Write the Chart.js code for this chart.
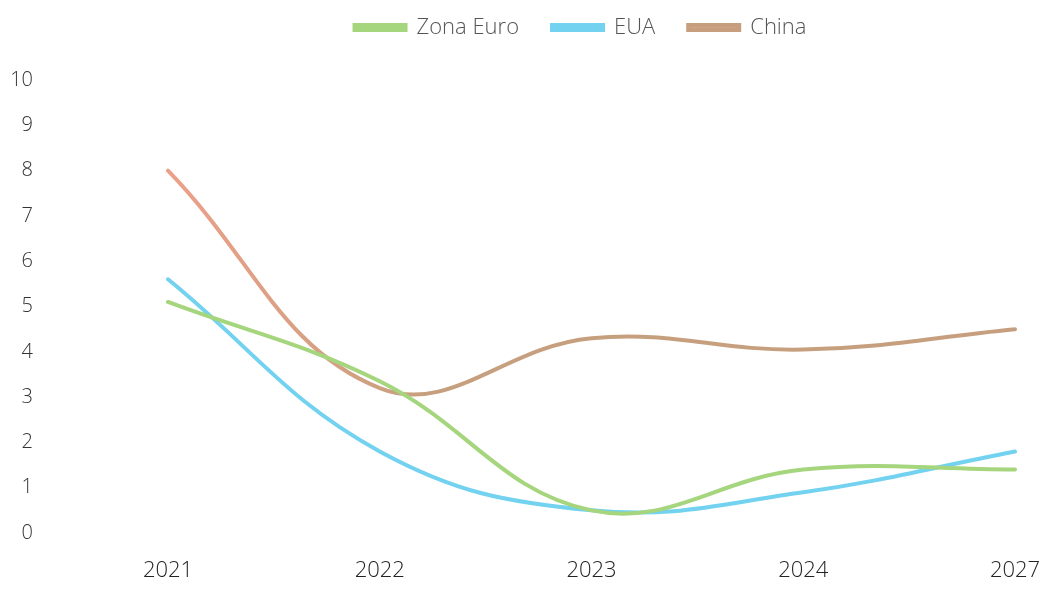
<!DOCTYPE html>
<html>
<head>
<meta charset="utf-8">
<script src="https://cdn.jsdelivr.net/npm/chart.js@4"></script>
<style>
  html, body { margin: 0; padding: 0; background: #fff; }
  #wrap { width: 1048px; height: 595px; }
</style>
</head>
<body>
<div id="wrap"><canvas id="growthChart" width="1048" height="595"></canvas></div>
<script>
const labels = ['2021', '2022', '2023', '2024', '2027'];

const zonaEuro = [5.1, 3.35, 0.5, 1.4, 1.4];
const eua = [5.6, 1.8, 0.5, 0.9, 1.8];
const china = [8.0, 3.2, 4.3, 4.05, 4.5];

const yTicks = [0, 1, 2, 3, 4, 5, 6, 7, 8, 9, 10];

const ctx = document.getElementById('growthChart').getContext('2d');

// China line fades from salmon to brown in the reference
const chinaColor = c => {
  const area = c.chart.chartArea;
  if (!area) return '#c9a07e';
  const g = c.chart.ctx.createLinearGradient(area.left, 0, area.left + 260, 0);
  g.addColorStop(0, '#eca08a');
  g.addColorStop(1, '#c6a07e');
  return g;
};

// legend sits a bit right of centre and close to the top edge
const legendNudge = {
  id: 'legendNudge',
  afterLayout(chart) {
    const lg = chart.legend;
    const dy = (lg.top + lg.bottom) / 2 - 16;
    lg.top -= dy; lg.bottom -= dy;
    lg.left += 69; lg.right += 69;
  }
};

new Chart(ctx, {
  type: 'line',
  data: {
    labels: labels,
    datasets: [
      { label: 'Zona Euro', data: zonaEuro, borderColor: '#a5d57d', backgroundColor: '#a5d57d' },
      { label: 'EUA', data: eua, borderColor: '#72d2ef', backgroundColor: '#72d2ef' },
      { label: 'China', data: china, borderColor: chinaColor, backgroundColor: '#d2a585' }
    ]
  },
  plugins: [legendNudge],
  options: {
    responsive: false,
    animation: false,
    layout: { padding: { left: 8, right: 33, top: 0, bottom: 0 } },
    elements: {
      line: { tension: 0.4, borderWidth: 4, borderCapStyle: 'round' },
      point: { radius: 0 }
    },
    plugins: {
      legend: {
        position: 'top',
        labels: {
          boxWidth: 51,
          boxHeight: 5,
          padding: 33,
          color: '#555',
          font: { family: 'Open Sans', size: 22, weight: '300' }
        }
      },
      tooltip: { enabled: false }
    },
    scales: {
      x: {
        offset: false,
        grid: { display: false, drawTicks: false },
        border: { display: false },
        afterFit: axis => { axis.paddingLeft = 0; axis.paddingRight = 0; axis.height = 62; },
        ticks: {
          color: '#222',
          padding: 25,
          font: { family: 'Open Sans', size: 22, weight: '300' }
        }
      },
      y: {
        min: 0,
        max: 10,
        afterBuildTicks: axis => { axis.ticks = yTicks.map(v => ({ value: v })); },
        // keep the wide gap between labels and plot without inflating the layout
        afterFit: axis => {
          axis.width = 160;
          axis.paddingTop = 80;
          axis.paddingBottom = 10;
        },
        grid: { display: false, drawTicks: false },
        border: { display: false },
        ticks: {
          color: '#333',
          padding: 135,
          font: { family: 'Open Sans', size: 20, weight: '300' }
        }
      }
    }
  }
});
</script>
</body>
</html>
